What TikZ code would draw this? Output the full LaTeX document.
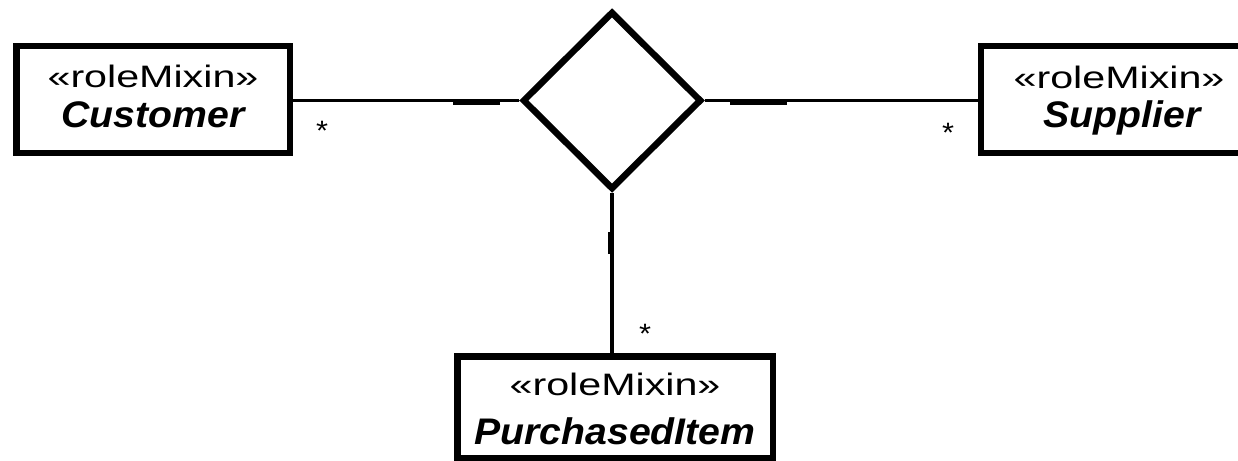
\documentclass[tikz,border=0pt]{standalone}
\usepackage{fontspec}
\usepackage{graphicx}
\setmainfont{Liberation Sans}
\usetikzlibrary{shapes.geometric,calc}

% stereotype line and class name, set wide like the original drawing
\newcommand{\stereotypetext}[1]{\scalebox{1.33}[1]{\fontsize{31}{31}\selectfont #1}}
\newcommand{\classnametext}[1]{\scalebox{1.06}[1]{\fontsize{37}{37}\selectfont\bfseries\itshape #1}}
\newcommand{\multtext}{\scalebox{1.1}[1]{\fontsize{28}{28}\selectfont *}}

\begin{document}
\begin{tikzpicture}[x=1pt,y=-1pt,
  classbox/.style={draw=black,line width=6.5pt,rectangle,inner sep=0pt,fill=white},
  assocdia/.style={draw=black,line width=6.5pt,diamond,aspect=1,inner sep=0pt,
                   minimum width=179pt,minimum height=178pt},
  assocline/.style={draw=black,line width=3.5pt},
  thickseg/.style={draw=black,line width=6pt},
  labeltext/.style={anchor=base,inner sep=0pt,text=black},
  multlabel/.style={anchor=base,inner sep=0pt,text=black}]
\useasboundingbox (0,0) rectangle (1238,460);
\clip (0,0) rectangle (1238,460);
\fill[white] (0,0) rectangle (1238,460);

% the n-ary association diamond
\node[assocdia] (assoc) at (612,100.5) {};

% the three role classes
\node[classbox,minimum width=273.5pt,minimum height=106.5pt] (customer) at (153,99.5) {};
\node[classbox,minimum width=278pt,minimum height=106.5pt] (supplier) at (1120,99.5) {};
\node[classbox,minimum width=315.5pt,minimum height=101.5pt] (item) at (615,407) {};

\node[labeltext] (custstereo) at (153,87) {\stereotypetext{«roleMixin»}};
\node[labeltext] (custname) at (153,127) {\classnametext{Customer}};
\node[labeltext] (suppstereo) at (1119,88) {\stereotypetext{«roleMixin»}};
\node[labeltext] (suppname) at (1122,127) {\classnametext{Supplier}};
\node[labeltext] (itemstereo) at (615,395) {\stereotypetext{«roleMixin»}};
\node[labeltext] (itemname) at (615,444) {\classnametext{PurchasedItem}};

% association ends
\draw[assocline] (assoc.west) -- (assoc.west -| customer.east);
\draw[assocline] (assoc.east) -- (assoc.east -| supplier.west);
\draw[assocline] (assoc.south) -- (assoc.south |- item.north);

% short heavy strokes on each end
\draw[thickseg] ($(assoc.west)+(-66,1)$) -- ($(assoc.west)+(-19,1)$);
\draw[thickseg] ($(assoc.east)+(25,1)$) -- ($(assoc.east)+(82,1)$);
\draw[thickseg] ($(assoc.south)+(-0.7,39)$) -- ($(assoc.south)+(-0.7,61)$);

% multiplicities
\node[multlabel] (multcust) at (322,140) {\multtext};
\node[multlabel] (multsupp) at (948,142) {\multtext};
\node[multlabel] (multitem) at (645,343) {\multtext};
\end{tikzpicture}
\end{document}
